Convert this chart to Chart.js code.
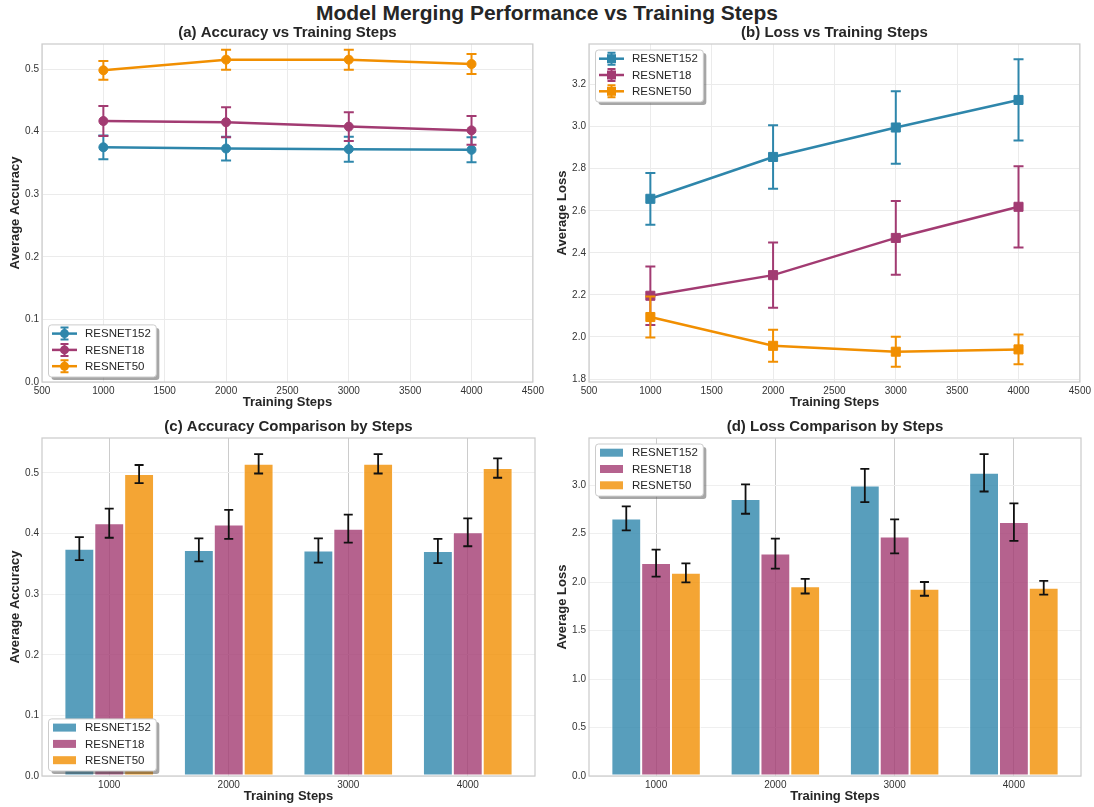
<!DOCTYPE html>
<html>
<head>
<meta charset="utf-8">
<title>Model Merging Performance vs Training Steps</title>
<script src="https://cdn.jsdelivr.net/npm/chart.js@4.4.1/dist/chart.umd.min.js"></script>
<style>
  html, body { margin: 0; padding: 0; background: #ffffff; }
  #fig { position: relative; width: 1094px; height: 807px; background: #ffffff; overflow: hidden; }
  #suptitle {
    position: absolute; left: 0; top: 1px; width: 1094px; text-align: center;
    font: bold 21px "Liberation Sans", Arial, sans-serif; color: #262626; line-height: 24px;
  }
  .panel { position: absolute; width: 547px; height: 392px; }
  .panel canvas { display: block; }
</style>
</head>
<body>
<div id="fig">
  <div id="suptitle">Model Merging Performance vs Training Steps</div>
  <div class="panel" style="left:0px;top:20px"><canvas id="accLine" width="547" height="392"></canvas></div>
  <div class="panel" style="left:547px;top:20px"><canvas id="lossLine" width="547" height="392"></canvas></div>
  <div class="panel" style="left:0px;top:414px"><canvas id="accBar" width="547" height="392"></canvas></div>
  <div class="panel" style="left:547px;top:414px"><canvas id="lossBar" width="547" height="392"></canvas></div>
</div>
<script>
// Training-step checkpoints and models
const steps = [1000, 2000, 3000, 4000];
const models = ['RESNET152', 'RESNET18', 'RESNET50'];
const modelColors = ['#2E86AB', '#A23B72', '#F18F01'];

// Average accuracy (mean and std) per checkpoint
const accResnet152 = [0.375, 0.373, 0.372, 0.371];
const accResnet152Err = [0.019, 0.019, 0.020, 0.020];
const accResnet18 = [0.417, 0.415, 0.408, 0.402];
const accResnet18Err = [0.024, 0.024, 0.023, 0.023];
const accResnet50 = [0.498, 0.515, 0.515, 0.508];
const accResnet50Err = [0.015, 0.016, 0.016, 0.016];

// Average loss (mean and std) per checkpoint
const lossResnet152 = [2.657, 2.856, 2.996, 3.127];
const lossResnet152Err = [0.123, 0.151, 0.172, 0.193];
const lossResnet18 = [2.196, 2.294, 2.471, 2.619];
const lossResnet18Err = [0.139, 0.155, 0.175, 0.193];
const lossResnet50 = [2.095, 1.958, 1.930, 1.941];
const lossResnet50Err = [0.097, 0.076, 0.071, 0.071];

// Tick values
const stepAxisTicks = [500, 1000, 1500, 2000, 2500, 3000, 3500, 4000, 4500];
const accTicks = [0.0, 0.1, 0.2, 0.3, 0.4, 0.5];
const lossLineTicks = [1.8, 2.0, 2.2, 2.4, 2.6, 2.8, 3.0, 3.2];
const lossBarTicks = [0.0, 0.5, 1.0, 1.5, 2.0, 2.5, 3.0];

const accMeans = [accResnet152, accResnet18, accResnet50];
const accErrs = [accResnet152Err, accResnet18Err, accResnet50Err];
const lossMeans = [lossResnet152, lossResnet18, lossResnet50];
const lossErrs = [lossResnet152Err, lossResnet18Err, lossResnet50Err];

const FONT = '"Liberation Sans", Arial, sans-serif';
Chart.defaults.font.family = FONT;
Chart.defaults.color = '#333333';

function withAlpha(hex, a) {
  const n = parseInt(hex.slice(1), 16);
  return `rgba(${(n >> 16) & 255}, ${(n >> 8) & 255}, ${n & 255}, ${a})`;
}

// 5% padded data range, like an autoscaled axis
function paddedRange(means, errs) {
  let lo = Infinity, hi = -Infinity;
  means.forEach((m, k) => m.forEach((v, i) => {
    lo = Math.min(lo, v - errs[k][i]);
    hi = Math.max(hi, v + errs[k][i]);
  }));
  const pad = (hi - lo) * 0.05;
  return [lo - pad, hi + pad];
}

// Vertical error bars with caps, drawn right after each dataset
const errorBars = {
  id: 'errorBars',
  afterDatasetDraw(chart, args, opts) {
    const ds = chart.data.datasets[args.index];
    if (!ds.errors) return;
    const yScale = chart.scales.y;
    const ctx = chart.ctx;
    ctx.save();
    ctx.strokeStyle = opts.color || ds.borderColor;
    ctx.lineWidth = opts.width;
    args.meta.data.forEach((el, i) => {
      const p = args.meta.controller.getParsed(i);
      const e = ds.errors[i];
      const top = yScale.getPixelForValue(p.y + e);
      const bot = yScale.getPixelForValue(p.y - e);
      const x = el.x, c = opts.cap;
      ctx.beginPath();
      ctx.moveTo(x, top); ctx.lineTo(x, bot);
      ctx.moveTo(x - c, top); ctx.lineTo(x + c, top);
      ctx.moveTo(x - c, bot); ctx.lineTo(x + c, bot);
      ctx.stroke();
    });
    ctx.restore();
  }
};

// Light box around the plotting area
const axesFrame = {
  id: 'axesFrame',
  afterDatasetsDraw(chart) {
    const { left, top, right, bottom } = chart.chartArea;
    const ctx = chart.ctx;
    ctx.save();
    ctx.strokeStyle = '#cccccc';
    ctx.lineWidth = 1.25;
    ctx.strokeRect(left, top, right - left, bottom - top);
    ctx.restore();
  }
};

function roundRect(ctx, x, y, w, h, r) {
  ctx.beginPath();
  ctx.moveTo(x + r, y);
  ctx.lineTo(x + w - r, y);
  ctx.arcTo(x + w, y, x + w, y + r, r);
  ctx.lineTo(x + w, y + h - r);
  ctx.arcTo(x + w, y + h, x + w - r, y + h, r);
  ctx.lineTo(x + r, y + h);
  ctx.arcTo(x, y + h, x, y + h - r, r);
  ctx.lineTo(x, y + r);
  ctx.arcTo(x, y, x + r, y, r);
  ctx.closePath();
}

// Framed legend with drop shadow inside the plotting area
const legendBox = {
  id: 'legendBox',
  afterDraw(chart, args, opts) {
    const ctx = chart.ctx, area = chart.chartArea;
    const list = chart.data.datasets;
    ctx.save();
    ctx.font = `11.5px ${FONT}`;
    const textW = Math.max(...list.map(d => ctx.measureText(d.label).width));
    const rowH = 16.3, padTop = 8.7, padBottom = 10.8, padL = 3.5, handleW = 25, gap = 8, padR = 5.5;
    const w = padL + handleW + gap + textW + padR;
    const h = padTop + rowH * (list.length - 1) + padBottom;
    const x0 = area.left + 6.5;
    const y0 = opts.position === 'upper left' ? area.top + 6 : area.bottom - 5 - h;

    roundRect(ctx, x0 + 3, y0 + 3, w, h, 3);
    ctx.fillStyle = 'rgba(77, 77, 77, 0.5)';
    ctx.fill();
    roundRect(ctx, x0, y0, w, h, 3);
    ctx.fillStyle = '#ffffff';
    ctx.fill();
    ctx.strokeStyle = '#cccccc';
    ctx.lineWidth = 1;
    ctx.stroke();

    list.forEach((d, i) => {
      const cy = y0 + padTop + i * rowH;
      const hx = x0 + padL;
      const mx = hx + handleW / 2;
      if (opts.kind === 'bar') {
        ctx.fillStyle = d.backgroundColor;
        ctx.fillRect(hx + 1, cy - 4, handleW - 2, 8);
      } else {
        ctx.strokeStyle = d.borderColor;
        ctx.fillStyle = d.borderColor;
        ctx.lineWidth = 2.5;
        ctx.beginPath(); ctx.moveTo(hx, cy); ctx.lineTo(hx + handleW, cy); ctx.stroke();
        ctx.lineWidth = 2;
        ctx.beginPath();
        ctx.moveTo(mx, cy - 6); ctx.lineTo(mx, cy + 6);
        ctx.moveTo(mx - 4, cy - 6); ctx.lineTo(mx + 4, cy - 6);
        ctx.moveTo(mx - 4, cy + 6); ctx.lineTo(mx + 4, cy + 6);
        ctx.stroke();
        ctx.beginPath();
        if (opts.marker === 'rect') ctx.rect(mx - 4.5, cy - 4.5, 9, 9);
        else ctx.arc(mx, cy, 4.5, 0, Math.PI * 2);
        ctx.fill();
      }
      ctx.fillStyle = '#262626';
      ctx.textBaseline = 'middle';
      ctx.textAlign = 'left';
      ctx.fillText(d.label, hx + handleW + gap, cy + 0.5);
    });
    ctx.restore();
  }
};

const tickFont = { size: 10 };
const axisTitleFont = { size: 13, weight: 'bold' };

function titleOpts(text) {
  return {
    display: true, text, color: '#262626', fullSize: false,
    font: { size: 15, weight: 'bold', lineHeight: 1.2 },
    padding: { top: 4, bottom: 2 }
  };
}

function xAxisTitle() {
  return { display: true, text: 'Training Steps', color: '#262626', font: axisTitleFont, padding: { top: 0, bottom: 1.3 } };
}

function yAxisTitle(text) {
  return { display: true, text, color: '#262626', font: axisTitleFont, padding: { top: 7.5, bottom: 0 } };
}

function fixedTicks(values) {
  return s => { s.ticks = values.map(v => ({ value: v })); };
}

function lineChart(id, means, errs, yMin, yMax, yTicks, yLabel, title, marker, radius, legendPos) {
  const datasets = models.map((m, k) => ({
    label: m,
    data: steps.map((s, i) => ({ x: s, y: means[k][i] })),
    errors: errs[k],
    borderColor: modelColors[k],
    backgroundColor: modelColors[k],
    borderWidth: 2.5,
    pointStyle: marker,
    pointRadius: radius,
    pointBorderWidth: 1,
    pointBackgroundColor: modelColors[k],
    pointBorderColor: modelColors[k],
    tension: 0,
    order: models.length - k
  }));
  return new Chart(document.getElementById(id), {
    type: 'line',
    data: { datasets },
    options: {
      responsive: false, animation: false, devicePixelRatio: 1, events: [],
      layout: { padding: { left: 0, right: id === 'accLine' ? 12 : 13, top: 0, bottom: 0 } },
      scales: {
        x: {
          type: 'linear', min: stepAxisTicks[0], max: stepAxisTicks[stepAxisTicks.length - 1],
          afterBuildTicks: fixedTicks(stepAxisTicks),
          afterFit: s => { s.height = 30; },
          ticks: { font: tickFont, padding: 3, color: '#333333', autoSkip: false, maxRotation: 0, callback: v => String(v) },
          grid: { color: '#ebebeb', lineWidth: 1, drawTicks: false },
          border: { display: false },
          title: xAxisTitle()
        },
        y: {
          type: 'linear', min: yMin, max: yMax,
          afterBuildTicks: fixedTicks(yTicks),
          afterFit: s => { s.width = 42; },
          ticks: { font: tickFont, padding: 3, color: '#333333', autoSkip: false, callback: v => Number(v).toFixed(1) },
          grid: { color: '#ebebeb', lineWidth: 1, drawTicks: false },
          border: { display: false },
          title: yAxisTitle(yLabel)
        }
      },
      plugins: {
        legend: { display: false },
        tooltip: { enabled: false },
        title: titleOpts(title),
        errorBars: { width: 2, cap: 5 },
        legendBox: { position: legendPos, kind: 'line', marker }
      }
    },
    plugins: [errorBars, axesFrame, legendBox]
  });
}

function barChart(id, means, errs, yMax, yTicks, yLabel, title, legendPos) {
  const spacing = steps[1] - steps[0];
  const datasets = models.map((m, k) => ({
    label: m,
    data: steps.map((s, i) => ({ x: s, y: means[k][i] })),
    errors: errs[k],
    backgroundColor: withAlpha(modelColors[k], 0.8),
    borderColor: '#ffffff',
    borderWidth: 1,
    borderSkipped: false,
    categoryPercentage: 0.75,
    barPercentage: 1.0
  }));
  return new Chart(document.getElementById(id), {
    type: 'bar',
    data: { datasets },
    options: {
      responsive: false, animation: false, devicePixelRatio: 1, events: [],
      layout: { padding: { left: 0, right: id === 'accBar' ? 12 : 13, top: 0, bottom: 0 } },
      scales: {
        x: {
          type: 'linear', offset: false,
          min: steps[0] - 0.5625 * spacing, max: steps[steps.length - 1] + 0.5625 * spacing,
          afterBuildTicks: fixedTicks(steps),
          afterFit: s => { s.height = 30; },
          ticks: { font: tickFont, padding: 3, color: '#333333', autoSkip: false, maxRotation: 0, callback: v => String(v) },
          grid: { color: '#cccccc', lineWidth: 1, drawTicks: false, offset: false },
          border: { display: false },
          title: xAxisTitle()
        },
        y: {
          type: 'linear', min: 0, max: yMax,
          afterBuildTicks: fixedTicks(yTicks),
          afterFit: s => { s.width = 42; },
          ticks: { font: tickFont, padding: 3, color: '#333333', autoSkip: false, callback: v => Number(v).toFixed(1) },
          grid: { color: '#efefef', lineWidth: 1, drawTicks: false },
          border: { display: false },
          title: yAxisTitle(yLabel)
        }
      },
      plugins: {
        legend: { display: false },
        tooltip: { enabled: false },
        title: titleOpts(title),
        errorBars: { width: 1.8, cap: 4.5, color: '#111111' },
        legendBox: { position: legendPos, kind: 'bar' }
      }
    },
    plugins: [errorBars, axesFrame, legendBox]
  });
}

const accRange = paddedRange(accMeans, accErrs);
const lossRange = paddedRange(lossMeans, lossErrs);
const accBarTop = paddedRange([[0], ...accMeans], [[0], ...accErrs])[1];
const lossBarTop = paddedRange([[0], ...lossMeans], [[0], ...lossErrs])[1];

lineChart('accLine', accMeans, accErrs, 0, accRange[1], accTicks, 'Average Accuracy',
  '(a) Accuracy vs Training Steps', 'circle', 4.5, 'lower left');
lineChart('lossLine', lossMeans, lossErrs, lossRange[0], lossRange[1], lossLineTicks, 'Average Loss',
  '(b) Loss vs Training Steps', 'rect', 6.4, 'upper left');
barChart('accBar', accMeans, accErrs, accBarTop, accTicks, 'Average Accuracy',
  '(c) Accuracy Comparison by Steps', 'lower left');
barChart('lossBar', lossMeans, lossErrs, lossBarTop, lossBarTicks, 'Average Loss',
  '(d) Loss Comparison by Steps', 'upper left');
</script>
</body>
</html>
